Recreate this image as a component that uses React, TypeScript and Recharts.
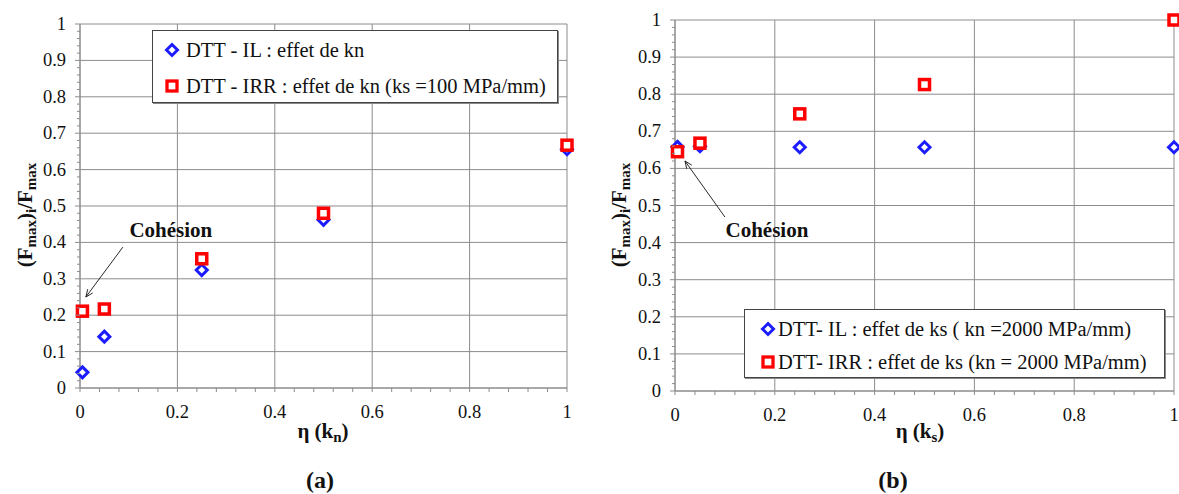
import React from "react";
import { ScatterChart, Scatter, XAxis, YAxis, CartesianGrid, Legend, ReferenceLine } from "recharts";

// (a) effect of kn
const etaA = [0.005, 0.05, 0.25, 0.5, 1];
const ilA = [0.043, 0.141, 0.324, 0.462, 0.656];
const irrA = [0.211, 0.217, 0.355, 0.48, 0.667];
// (b) effect of ks
const etaB = [0.005, 0.05, 0.25, 0.5, 1];
const ilB = [0.658, 0.66, 0.657, 0.657, 0.657];
const irrB = [0.645, 0.668, 0.747, 0.826, 1.0];

const namesA = ["DTT - IL : effet de kn", "DTT - IRR : effet de kn (ks =100 MPa/mm)"];
const namesB = ["DTT- IL : effet de ks ( kn =2000 MPa/mm)", "DTT- IRR : effet de ks (kn = 2000 MPa/mm)"];

const yMajor = [0, 0.1, 0.2, 0.3, 0.4, 0.5, 0.6, 0.7, 0.8, 0.9, 1];
const xMajor = [0, 0.2, 0.4, 0.6, 0.8, 1];
const yMinor = Array.from({ length: 51 }, (_, i) => i / 50);
const xMinor = Array.from({ length: 26 }, (_, i) => i / 25);

const FONT = "Liberation Serif";
const GRID = "#8c8c8c";
const BLUE = "#1c1cff";
const RED = "#ff0000";

const toPoints = (xs: number[], ys: number[]) => xs.map((x, i) => ({ x, y: ys[i] }));

const fmt = (v: number) => String(Math.round(v * 10) / 10);

const YTick = (props: any) => {
  const { x, y, payload } = props;
  const v = payload.value;
  const major = Math.round(v * 50) % 5 === 0;
  return (
    <g>
      <line x1={x - (major ? 5 : 3)} x2={x} y1={y} y2={y} stroke={GRID} />
      {major && (
        <text x={x - 14} y={y} dy={6} textAnchor="end" style={{ fontFamily: FONT, fontSize: 18.5 }} fill="#111">
          {fmt(v)}
        </text>
      )}
    </g>
  );
};

const XTick = (props: any) => {
  const { x, y, payload } = props;
  const v = payload.value;
  const major = Math.round(v * 25) % 5 === 0;
  return (
    <g>
      <line x1={x} x2={x} y1={y} y2={y + 4} stroke={GRID} />
      {major && (
        <text x={x} y={y + 30} textAnchor="middle" style={{ fontFamily: FONT, fontSize: 18.5 }} fill="#111">
          {fmt(v)}
        </text>
      )}
    </g>
  );
};

const Diamond = (props: any) => {
  const { cx, cy } = props;
  const r = 5.5;
  return (
    <path
      d={`M${cx},${cy - r} L${cx + r},${cy} L${cx},${cy + r} L${cx - r},${cy} Z`}
      fill="#fff"
      stroke={BLUE}
      strokeWidth={3}
    />
  );
};

const Square = (props: any) => {
  const { cx, cy } = props;
  return <rect x={cx - 5} y={cy - 5} width={10} height={10} fill="#fff" stroke={RED} strokeWidth={3.5} />;
};

interface LegendLayout {
  markerX: number;
  textX: number;
  rows: number[];
}

const legendContent = (lay: LegendLayout) => (props: any) => {
  const { payload } = props;
  return (
    <div
      style={{
        position: "relative",
        border: "1px solid #444",
        boxShadow: "1px 1px 0 #888",
        background: "#fff",
        boxSizing: "border-box",
        width: "100%",
        height: "100%",
        fontFamily: FONT,
        fontSize: 20.5,
        color: "#111",
      }}
    >
      {(payload || []).map((entry: any, i: number) => (
        <div key={i}>
          <svg
            width={16}
            height={16}
            style={{ position: "absolute", left: lay.markerX - 8, top: lay.rows[i] - 8 }}
          >
            {i === 0 ? (
              <path d="M8,2.5 L13.5,8 L8,13.5 L2.5,8 Z" fill="#fff" stroke={BLUE} strokeWidth={3} />
            ) : (
              <rect x={3} y={3} width={10} height={10} fill="#fff" stroke={RED} strokeWidth={3.3} />
            )}
          </svg>
          <span
            style={{
              position: "absolute",
              left: lay.textX,
              top: lay.rows[i] - 13,
              lineHeight: "26px",
              whiteSpace: "nowrap",
            }}
          >
            {entry.value}
          </span>
        </div>
      ))}
    </div>
  );
};

const arrowShape = (dx: number, dy: number) => (props: any) => {
  const { x1, y1, x2, y2 } = props;
  if ([x1, y1, x2, y2].some((v) => v === undefined || Number.isNaN(v))) return null;
  const ang = Math.atan2(y2 - y1, x2 - x1);
  const L = 8;
  const a1 = ang + Math.PI - 0.4;
  const a2 = ang + Math.PI + 0.4;
  return (
    <g>
      <line x1={x1} y1={y1} x2={x2} y2={y2} stroke="#111" strokeWidth={0.9} />
      <path
        d={`M${x2 + L * Math.cos(a1)},${y2 + L * Math.sin(a1)} L${x2},${y2} L${x2 + L * Math.cos(a2)},${y2 + L * Math.sin(a2)}`}
        fill="none"
        stroke="#111"
        strokeWidth={0.9}
      />
      <text
        x={x1 + dx}
        y={y1 + dy}
        dy={7}
        textAnchor="middle"
        style={{ fontFamily: FONT, fontWeight: "bold", fontSize: 21 }}
        fill="#111"
      >
        Cohésion
      </text>
    </g>
  );
};

interface PanelProps {
  xs: number[];
  il: number[];
  irr: number[];
  names: string[];
  width: number;
  margin: { top: number; right: number; bottom: number; left: number };
  legendBox: { left: number; top: number; width: number; height: number };
  legendLayout: LegendLayout;
  arrow: { from: { x: number; y: number }; to: { x: number; y: number }; dx: number; dy: number };
}

const Panel = ({ xs, il, irr, names, width, margin, legendBox, legendLayout, arrow }: PanelProps) => (
  <ScatterChart width={width} height={494} margin={margin}>
    <CartesianGrid stroke={GRID} horizontalValues={yMajor} verticalValues={xMajor} strokeWidth={1} />
    <XAxis
      type="number"
      dataKey="x"
      domain={[0, 1]}
      ticks={xMinor}
      interval={0}
      tickSize={0}
      tickMargin={0}
      height={30}
      tick={<XTick />}
      axisLine={{ stroke: GRID }}
      tickLine={false}
    />
    <YAxis
      type="number"
      dataKey="y"
      domain={[0, 1]}
      ticks={yMinor}
      interval={0}
      tickSize={0}
      tickMargin={0}
      width={60}
      tick={<YTick />}
      axisLine={{ stroke: GRID }}
      tickLine={false}
    />
    <ReferenceLine segment={[arrow.from, arrow.to]} shape={arrowShape(arrow.dx, arrow.dy)} ifOverflow="visible" />
    <Scatter name={names[0]} data={toPoints(xs, il)} shape={<Diamond />} isAnimationActive={false} />
    <Scatter name={names[1]} data={toPoints(xs, irr)} shape={<Square />} isAnimationActive={false} />
    <Legend
      layout="vertical"
      align="center"
      verticalAlign="middle"
      content={legendContent(legendLayout)}
      wrapperStyle={{ ...legendBox, position: "absolute" }}
    />
  </ScatterChart>
);

const YTitle = ({ x, y }: { x: number; y: number }) => (
  <text
    transform={`translate(${x},${y}) rotate(-90)`}
    textAnchor="middle"
    style={{ fontFamily: FONT, fontWeight: "bold", fontSize: 21 }}
    fill="#111"
  >
    <tspan>(F</tspan>
    <tspan dy={4} fontSize={15}>max</tspan>
    <tspan dy={-4}>)</tspan>
    <tspan dy={4} fontSize={15}>i</tspan>
    <tspan dy={-4}>/F</tspan>
    <tspan dy={4} fontSize={15}>max</tspan>
  </text>
);

const XTitle = ({ x, y, sub }: { x: number; y: number; sub: string }) => (
  <text x={x} y={y} textAnchor="middle" style={{ fontFamily: FONT, fontWeight: "bold", fontSize: 21 }} fill="#111">
    <tspan>η (k</tspan>
    <tspan dy={4} fontSize={15}>{sub}</tspan>
    <tspan dy={-4}>)</tspan>
  </text>
);

export default function App() {
  return (
    <div style={{ position: "absolute", left: 0, top: 0, width: 1179, height: 494, background: "#fff" }}>
      <div style={{ position: "absolute", left: 0, top: 0 }}>
        <Panel
          xs={etaA}
          il={ilA}
          irr={irrA}
          names={namesA}
          width={590}
          margin={{ top: 24, right: 23, bottom: 76, left: 20 }}
          legendBox={{ left: 152, top: 30, width: 406, height: 73 }}
          legendLayout={{ markerX: 19, textX: 33, rows: [19, 55] }}
          arrow={{ from: { x: 0.088, y: 0.387 }, to: { x: 0.012, y: 0.25 }, dx: 48, dy: -17 }}
        />
      </div>
      <div style={{ position: "absolute", left: 590, top: 0 }}>
        <Panel
          xs={etaB}
          il={ilB}
          irr={irrB}
          names={namesB}
          width={589}
          margin={{ top: 20, right: 5, bottom: 73, left: 25 }}
          legendBox={{ left: 154, top: 309, width: 421, height: 69 }}
          legendLayout={{ markerX: 23, textX: 33, rows: [19, 52] }}
          arrow={{ from: { x: 0.1, y: 0.469 }, to: { x: 0.02, y: 0.62 }, dx: 42, dy: 13 }}
        />
      </div>
      <svg width={1179} height={494} style={{ position: "absolute", left: 0, top: 0, pointerEvents: "none" }}>
        <YTitle x={32} y={215} />
        <YTitle x={626} y={215} />
        <XTitle x={323} y={438} sub="n" />
        <XTitle x={920} y={438} sub="s" />
        <text x={320} y={488} textAnchor="middle" style={{ fontFamily: FONT, fontWeight: "bold", fontSize: 24 }} fill="#111">
          (a)
        </text>
        <text x={893} y={488} textAnchor="middle" style={{ fontFamily: FONT, fontWeight: "bold", fontSize: 24 }} fill="#111">
          (b)
        </text>
      </svg>
    </div>
  );
}
